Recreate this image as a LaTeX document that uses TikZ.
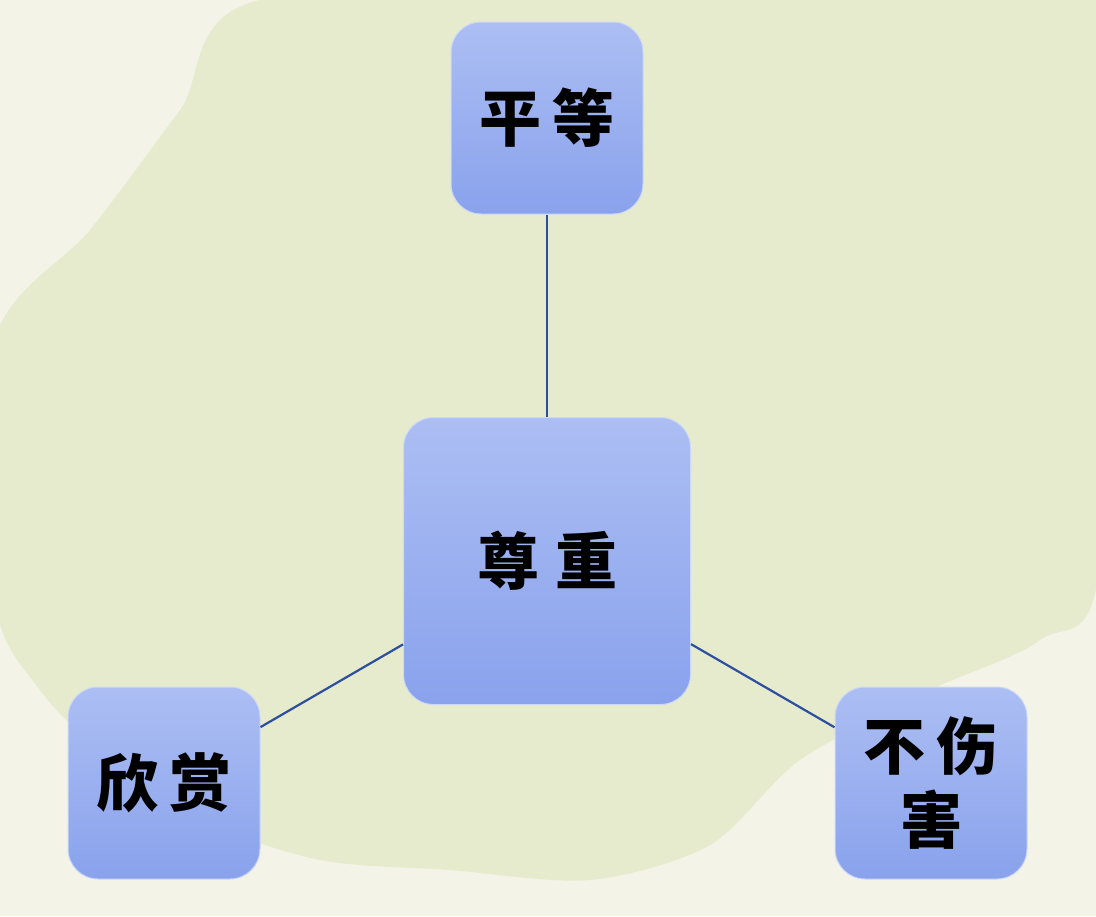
\documentclass[tikz,border=0pt]{standalone}
\usepackage{fontspec}
\newfontfamily\cjk{Noto Sans CJK SC}
\newlength{\du}
\setlength{\du}{0.5pt}
\definecolor{paper}{HTML}{F4F3E7}
\definecolor{leaf}{HTML}{E5EBCC}
\definecolor{boxtop}{HTML}{ACBEF3}
\definecolor{boxbottom}{HTML}{89A2EC}
\definecolor{linkline}{HTML}{2E4F9F}
\tikzset{
  valuebox/.style={rounded corners=30\du, top color=boxtop, bottom color=boxbottom,
    draw=boxtop!60!white, line width=1\du, align=center, inner sep=0pt,
    font=\cjk\bfseries\fontsize{31pt}{37pt}\selectfont},
  link/.style={draw=linkline, line width=2.2\du}
}

\begin{document}
\begin{tikzpicture}
\pgftransformyscale{-1.000000}
\useasboundingbox (0\du,0\du) rectangle (1096\du,916\du);
% background
\fill[paper] (0\du,0\du) rectangle (1096\du,916\du);
\fill[leaf] plot[smooth cycle, tension=0.5] coordinates {
  (260\du,0\du) (700\du,-10\du) (1096\du,0\du) (1100\du,560\du) (1040\du,640\du) (930\du,690\du)
  (800\du,760\du) (710\du,845\du) (590\du,880\du) (450\du,870\du) (320\du,860\du)
  (200\du,820\du) (110\du,760\du) (40\du,690\du) (-5\du,600\du) (-5\du,340\du)
  (90\du,230\du) (180\du,110\du)};
% boxes
\node[valuebox, minimum width=192\du, minimum height=192\du] (pingdeng) at (547\du,118\du) {平\hspace{6pt}等};
\node[valuebox, minimum width=287\du, minimum height=287\du] (zunzhong) at (547\du,561\du) {尊\hspace{8pt}重};
\node[valuebox, minimum width=192\du, minimum height=192\du] (xinshang) at (164\du,783\du) {欣\hspace{6pt}赏};
\node[valuebox, minimum width=192\du, minimum height=192\du] (bushanghai) at (931\du,783\du) {不\hspace{6pt}伤\\害};
% links
\draw[link] (pingdeng) -- (zunzhong);
\draw[link] (zunzhong) -- (xinshang);
\draw[link] (zunzhong) -- (bushanghai);
\end{tikzpicture}
\end{document}
